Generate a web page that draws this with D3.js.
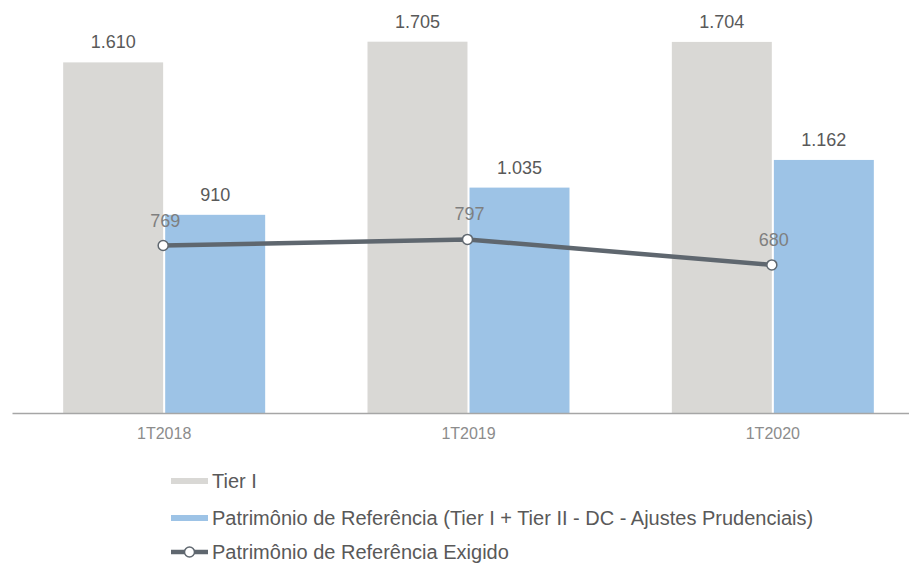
<!DOCTYPE html>
<html>
<head>
<meta charset="utf-8">
<script src="https://cdn.jsdelivr.net/npm/d3@7/dist/d3.min.js"></script>
<style>
  html, body { margin: 0; padding: 0; background: #ffffff; }
  svg { display: block; font-family: "Liberation Sans", Arial, sans-serif; }
</style>
</head>
<body>
<svg id="chart" width="909" height="568"></svg>
<script>
// Quarterly capital figures (R$ millions)
const categories = ["1T2018", "1T2019", "1T2020"];
const tierI = [1610, 1705, 1704];
const patrimonioRef = [910, 1035, 1162];
const patrimonioExigido = [769, 797, 680];
const seriesNames = [
  "Tier I",
  "Patrimônio de Referência (Tier I + Tier II - DC - Ajustes Prudenciais)",
  "Patrimônio de Referência Exigido"
];

const fmt = v => d3.format(",")(v).replace(/,/g, ".");

const colors = { tier: "#d9d8d5", pr: "#9dc3e6", line: "#5f676f" };

const svg = d3.select("#chart");
const baseY = 413;

const x = d3.scaleBand().domain(categories).range([12, 925]).padding(0);
const y = d3.scaleLinear().domain([0, 1800]).range([baseY, 21]);
const center = c => x(c) + x.bandwidth() / 2;

// Bars within each category: Tier I left of centre, PR right of centre
const inner = d3.scaleBand().domain(["tier", "pr"]).range([-101, 101]).paddingInner(0.02);

const g = svg.append("g");

// Tier I bars
g.selectAll("rect.tier").data(categories).join("rect")
  .attr("class", "tier")
  .attr("x", (c) => center(c) + inner("tier"))
  .attr("width", inner.bandwidth())
  .attr("y", (c, i) => y(tierI[i]))
  .attr("height", (c, i) => baseY - y(tierI[i]))
  .attr("fill", colors.tier);

// Patrimônio de Referência bars
g.selectAll("rect.pr").data(categories).join("rect")
  .attr("class", "pr")
  .attr("x", (c) => center(c) + inner("pr"))
  .attr("width", inner.bandwidth())
  .attr("y", (c, i) => y(patrimonioRef[i]))
  .attr("height", (c, i) => baseY - y(patrimonioRef[i]))
  .attr("fill", colors.pr);

// Bar value labels
const valueStyle = s => s.attr("text-anchor", "middle").attr("font-size", 18).attr("fill", "#595959");
g.selectAll("text.tierv").data(categories).join("text")
  .attr("x", c => center(c) + inner("tier") + inner.bandwidth() / 2)
  .attr("y", (c, i) => y(tierI[i]) - 14)
  .text((c, i) => fmt(tierI[i]))
  .call(valueStyle);
g.selectAll("text.prv").data(categories).join("text")
  .attr("x", c => center(c) + inner("pr") + inner.bandwidth() / 2)
  .attr("y", (c, i) => y(patrimonioRef[i]) - 14)
  .text((c, i) => fmt(patrimonioRef[i]))
  .call(valueStyle);

// Category axis
const axis = svg.append("g")
  .attr("transform", `translate(0,${baseY})`)
  .call(d3.axisBottom(x).tickSize(0).tickPadding(15));
axis.select(".domain").attr("stroke", "#a6a6a6").attr("stroke-width", 1.5);
axis.selectAll("text")
  .attr("font-family", "Liberation Sans, Arial, sans-serif")
  .attr("font-size", 16)
  .attr("fill", "#8c8c8c");

// Required capital line
const line = d3.line()
  .x((d, i) => center(categories[i]) - 1)
  .y(d => y(d));
g.append("path")
  .datum(patrimonioExigido)
  .attr("d", line)
  .attr("fill", "none")
  .attr("stroke", colors.line)
  .attr("stroke-width", 4.5);
g.selectAll("circle.pt").data(patrimonioExigido).join("circle")
  .attr("cx", (d, i) => center(categories[i]) - 1)
  .attr("cy", d => y(d))
  .attr("r", 5)
  .attr("fill", "#ffffff")
  .attr("stroke", colors.line)
  .attr("stroke-width", 1.5);
g.selectAll("text.ptv").data(patrimonioExigido).join("text")
  .attr("x", (d, i) => center(categories[i]) + 1)
  .attr("y", d => y(d) - 19)
  .attr("text-anchor", "middle")
  .attr("font-size", 18)
  .attr("fill", "#7f7f7f")
  .text(d => fmt(d));

// Legend
const legend = svg.append("g").attr("transform", "translate(171,0)");
const rowsY = [481, 518, 552];
legend.append("rect").attr("x", 0).attr("y", rowsY[0] - 3).attr("width", 37).attr("height", 6).attr("fill", colors.tier);
legend.append("rect").attr("x", 0).attr("y", rowsY[1] - 3).attr("width", 37).attr("height", 6).attr("fill", colors.pr);
legend.append("line").attr("x1", 0).attr("x2", 37).attr("y1", rowsY[2]).attr("y2", rowsY[2])
  .attr("stroke", colors.line).attr("stroke-width", 4.5);
legend.append("circle").attr("cx", 18.5).attr("cy", rowsY[2]).attr("r", 5)
  .attr("fill", "#ffffff").attr("stroke", colors.line).attr("stroke-width", 1.5);
legend.selectAll("text").data(seriesNames).join("text")
  .attr("x", 41)
  .attr("y", (d, i) => rowsY[i] + 7)
  .attr("font-size", 20)
  .attr("fill", "#595959")
  .text(d => d);
</script>
</body>
</html>
